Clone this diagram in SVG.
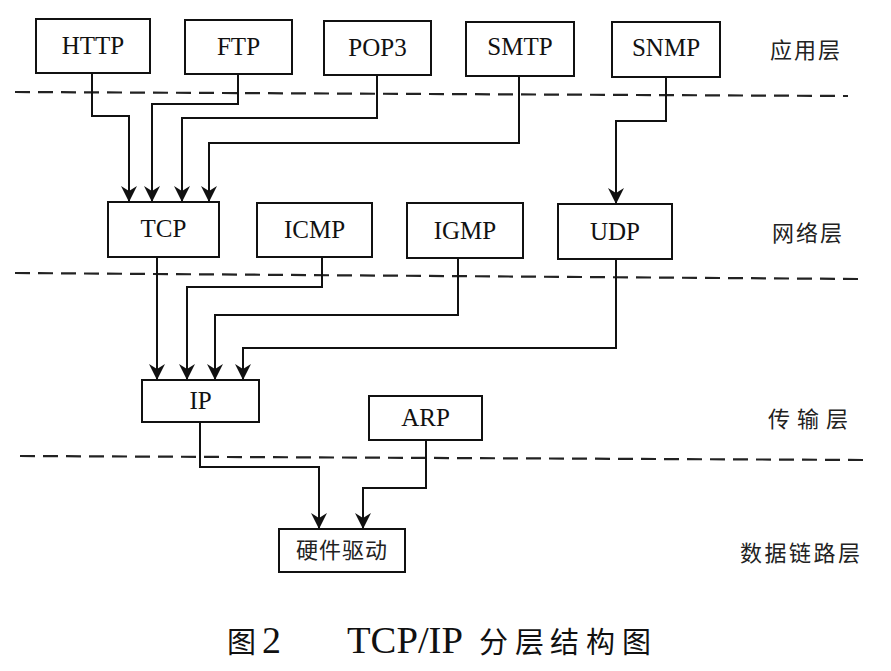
<svg xmlns="http://www.w3.org/2000/svg" width="891" height="671" viewBox="0 0 891 671">
<style>
.box{fill:#fff;stroke:#111;stroke-width:2}
.lbl{font-family:"Liberation Serif","Times New Roman",serif;font-size:25px;fill:#111;text-anchor:middle}
.cjk{font-family:"Noto Sans CJK SC","Noto Sans",sans-serif;font-size:22px;fill:#222}
.conn{fill:none;stroke:#111;stroke-width:2}
.dash{fill:none;stroke:#222;stroke-width:2.2;stroke-dasharray:15 8}
</style>
<defs>
<marker id="ah" viewBox="-17 -9 18 18" refX="0" refY="0" markerWidth="18" markerHeight="18" markerUnits="userSpaceOnUse" orient="auto">
<path d="M0,0 L-16,-8 L-11,0 L-16,8 Z" fill="#111"/>
</marker>
</defs>
<rect width="891" height="671" fill="#fff"/>

<g id="separators">
<path class="dash" d="M15,92 L848,96"/>
<path class="dash" d="M15,273 L861,279"/>
<path class="dash" d="M20,456 L865,460"/>
</g>

<g id="connectors">
<path class="conn" marker-end="url(#ah)" d="M92,73 V116 H129 V202"/>
<path class="conn" marker-end="url(#ah)" d="M238,74 V104 H152 V202"/>
<path class="conn" marker-end="url(#ah)" d="M377,75 V118 H182 V202"/>
<path class="conn" marker-end="url(#ah)" d="M519,76 V143 H209 V202"/>
<path class="conn" marker-end="url(#ah)" d="M666,77 V121 H616 V204"/>
<path class="conn" marker-end="url(#ah)" d="M157,257 V380"/>
<path class="conn" marker-end="url(#ah)" d="M322,257 V287 H187 V380"/>
<path class="conn" marker-end="url(#ah)" d="M458,258 V315 H215 V380"/>
<path class="conn" marker-end="url(#ah)" d="M616,259 V348 H243 V380"/>
<path class="conn" marker-end="url(#ah)" d="M200,422 V467 H319 V529"/>
<path class="conn" marker-end="url(#ah)" d="M426,440 V488 H363 V529"/>
</g>

<g id="http"><rect class="box" x="36" y="19" width="114" height="54"/><text class="lbl" x="93" y="54">HTTP</text></g>
<g id="ftp"><rect class="box" x="185" y="20" width="107" height="54"/><text class="lbl" x="238.5" y="55">FTP</text></g>
<g id="pop3"><rect class="box" x="324" y="21" width="107" height="54"/><text class="lbl" x="377.5" y="56">POP3</text></g>
<g id="smtp"><rect class="box" x="466" y="22" width="108" height="54"/><text class="lbl" x="520" y="55">SMTP</text></g>
<g id="snmp"><rect class="box" x="612" y="22" width="108" height="55"/><text class="lbl" x="666" y="56">SNMP</text></g>

<g id="tcp"><rect class="box" x="108" y="202" width="111" height="55"/><text class="lbl" x="163.5" y="237">TCP</text></g>
<g id="icmp"><rect class="box" x="257" y="203" width="115" height="54"/><text class="lbl" x="314.5" y="238">ICMP</text></g>
<g id="igmp"><rect class="box" x="407" y="203" width="116" height="55"/><text class="lbl" x="465" y="239">IGMP</text></g>
<g id="udp"><rect class="box" x="558" y="204" width="114" height="55"/><text class="lbl" x="615" y="240">UDP</text></g>

<g id="ip"><rect class="box" x="142" y="380" width="117" height="42"/><text class="lbl" x="200.5" y="409">IP</text></g>
<g id="arp"><rect class="box" x="369" y="396" width="113" height="44"/><text class="lbl" x="425.5" y="426">ARP</text></g>

<g id="hw"><rect class="box" x="279" y="529" width="126" height="43"/><text class="cjk" x="342" y="558" text-anchor="middle" letter-spacing="1">硬件驱动</text></g>

<g id="layers">
<text class="cjk" x="770" y="58" letter-spacing="2">应用层</text>
<text class="cjk" x="772" y="241" letter-spacing="2">网络层</text>
<text class="cjk" x="768" y="427" letter-spacing="7">传输层</text>
<text class="cjk" x="740" y="561" letter-spacing="2.5">数据链路层</text>
</g>

<g id="caption">
<text x="227" y="653" font-family="'Noto Sans CJK SC',sans-serif" font-size="29" fill="#111">图</text>
<text x="262" y="653" font-family="'Liberation Serif',serif" font-size="38" fill="#111">2</text>
<text x="347" y="653" font-family="'Liberation Serif',serif" font-size="38" fill="#111" textLength="116" lengthAdjust="spacingAndGlyphs">TCP/IP</text>
<text x="479 515 550 586 622" y="653" font-family="'Noto Sans CJK SC',sans-serif" font-size="29" fill="#111">分层结构图</text>
</g>
</svg>
